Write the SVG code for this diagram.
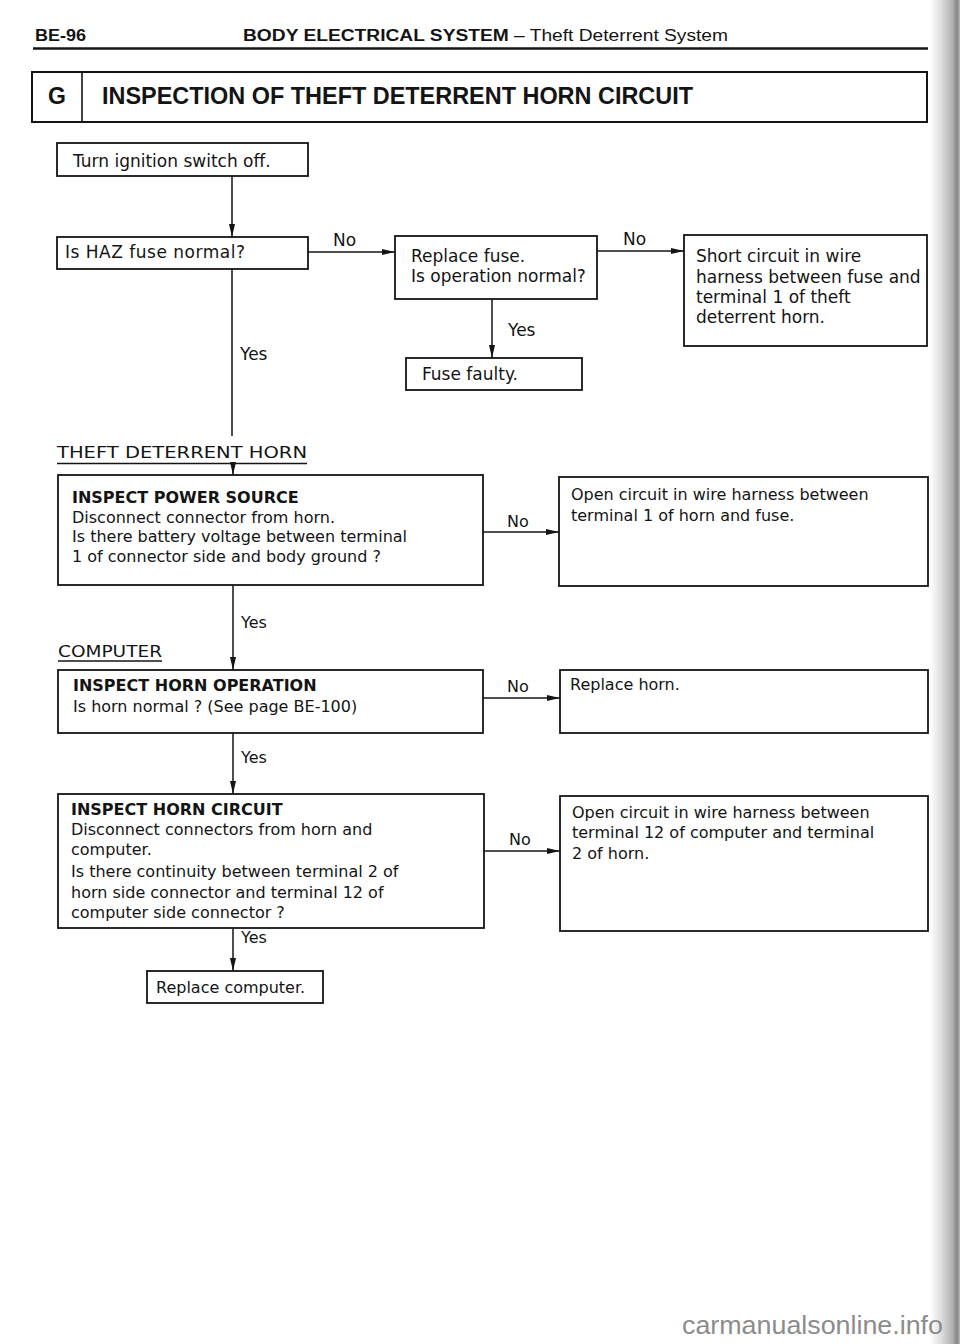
<svg xmlns="http://www.w3.org/2000/svg" width="960" height="1344" viewBox="0 0 960 1344">
  <defs>
    <style>
      .box { fill: #ffffff; stroke: #141414; stroke-width: 1.8; }
      .ln { fill: none; stroke: #141414; stroke-width: 1.5; }
      .t17 { font-family: "DejaVu Sans", "Liberation Sans", sans-serif; font-size: 17px; fill: #141414; }
      .t16 { font-family: "DejaVu Sans", "Liberation Sans", sans-serif; font-size: 16px; fill: #141414; }
      .b16 { font-family: "DejaVu Sans", "Liberation Sans", sans-serif; font-size: 16px; font-weight: bold; fill: #141414; }
      .hdr { font-family: "Liberation Sans", Arial, sans-serif; font-size: 16px; fill: #141414; }
      .ttl { font-family: "Liberation Sans", Arial, sans-serif; font-size: 23px; font-weight: bold; fill: #141414; }
      .wm { font-family: "Liberation Sans", Arial, sans-serif; font-size: 25px; fill: #8c8c8c; }
    </style>
    <marker id="arr" markerUnits="userSpaceOnUse" markerWidth="13" markerHeight="7" refX="13" refY="3.5" orient="auto">
      <path d="M0,0.5 L13,3.5 L0,6.5 z" fill="#141414"/>
    </marker>
    <linearGradient id="shadow" x1="0" y1="0" x2="1" y2="0">
      <stop offset="0" stop-color="#ffffff"/>
      <stop offset="0.35" stop-color="#e0e0e0"/>
      <stop offset="0.75" stop-color="#b0b0b0"/>
      <stop offset="0.9" stop-color="#858585"/>
      <stop offset="1" stop-color="#b8b8b8"/>
    </linearGradient>
  </defs>

  <rect x="0" y="0" width="960" height="1344" fill="#ffffff"/>
  <rect x="930" y="0" width="30" height="1344" fill="url(#shadow)"/>

  <!-- Page header -->
  <g id="header">
    <text class="hdr" x="35" y="41" font-weight="bold" textLength="51" lengthAdjust="spacingAndGlyphs">BE-96</text>
    <text class="hdr" x="243" y="41" textLength="485" lengthAdjust="spacingAndGlyphs"><tspan font-weight="bold">BODY ELECTRICAL SYSTEM</tspan> – Theft Deterrent System</text>
    <line x1="33" y1="48.5" x2="928" y2="48.5" stroke="#141414" stroke-width="2.6"/>
  </g>

  <!-- Title box -->
  <g id="title">
    <rect x="32" y="72" width="895" height="50" fill="#ffffff" stroke="#141414" stroke-width="2"/>
    <line x1="82" y1="72" x2="82" y2="122" stroke="#141414" stroke-width="1.6"/>
    <text class="ttl" x="48" y="104">G</text>
    <text class="ttl" x="102" y="104" textLength="591" lengthAdjust="spacingAndGlyphs">INSPECTION OF THEFT DETERRENT HORN CIRCUIT</text>
  </g>

  <!-- Connectors -->
  <g id="connectors">
    <line class="ln" x1="232" y1="176" x2="232" y2="237" marker-end="url(#arr)"/>
    <line class="ln" x1="308" y1="252" x2="395" y2="252" marker-end="url(#arr)"/>
    <line class="ln" x1="597" y1="251" x2="684" y2="251" marker-end="url(#arr)"/>
    <line class="ln" x1="492" y1="299" x2="492" y2="358" marker-end="url(#arr)"/>
    <line class="ln" x1="232" y1="269" x2="232" y2="436"/>
    <line class="ln" x1="233" y1="464" x2="233" y2="475" marker-end="url(#arr)"/>
    <line class="ln" x1="483" y1="532" x2="559" y2="532" marker-end="url(#arr)"/>
    <line class="ln" x1="233" y1="585" x2="233" y2="670" marker-end="url(#arr)"/>
    <line class="ln" x1="483" y1="698" x2="560" y2="698" marker-end="url(#arr)"/>
    <line class="ln" x1="233" y1="733" x2="233" y2="794" marker-end="url(#arr)"/>
    <line class="ln" x1="484" y1="851" x2="560" y2="851" marker-end="url(#arr)"/>
    <line class="ln" x1="233" y1="928" x2="233" y2="971" marker-end="url(#arr)"/>
  </g>

  <!-- Connector labels -->
  <g id="connector-labels">
    <text class="t17" x="333" y="246">No</text>
    <text class="t17" x="623" y="245">No</text>
    <text class="t17" x="508" y="336">Yes</text>
    <text class="t17" x="240" y="360">Yes</text>
    <text class="t16" x="507" y="527">No</text>
    <text class="t16" x="241" y="628">Yes</text>
    <text class="t16" x="507" y="692">No</text>
    <text class="t16" x="241" y="763">Yes</text>
    <text class="t16" x="509" y="845">No</text>
    <text class="t16" x="241" y="943">Yes</text>
  </g>

  <!-- Section labels -->
  <g id="section-horn">
    <text class="t16" x="57" y="458" textLength="250" lengthAdjust="spacingAndGlyphs">THEFT DETERRENT HORN</text>
    <line x1="57" y1="463.5" x2="307" y2="463.5" stroke="#141414" stroke-width="1.4"/>
  </g>
  <g id="section-computer">
    <text class="t16" x="58" y="657" textLength="104" lengthAdjust="spacingAndGlyphs">COMPUTER</text>
    <line x1="58" y1="661" x2="162" y2="661" stroke="#141414" stroke-width="1.4"/>
  </g>

  <!-- Nodes -->
  <g id="n-ignition-off">
    <rect class="box" x="57" y="143" width="251" height="33"/>
    <text class="t17" x="73" y="167">Turn ignition switch off.</text>
  </g>

  <g id="n-haz-fuse">
    <rect class="box" x="57" y="237" width="251" height="32"/>
    <text class="t17" x="65" y="258" textLength="180" lengthAdjust="spacing">Is HAZ fuse normal?</text>
  </g>

  <g id="n-replace-fuse">
    <rect class="box" x="395" y="236" width="202" height="63"/>
    <text class="t17" x="411" y="262">Replace fuse.</text>
    <text class="t17" x="411" y="282">Is operation normal?</text>
  </g>

  <g id="n-short-circuit">
    <rect class="box" x="684" y="235" width="243" height="111"/>
    <text class="t17" x="696" y="262">Short circuit in wire</text>
    <text class="t17" x="696" y="283">harness between fuse and</text>
    <text class="t17" x="696" y="303">terminal 1 of theft</text>
    <text class="t17" x="696" y="323">deterrent horn.</text>
  </g>

  <g id="n-fuse-faulty">
    <rect class="box" x="406" y="358" width="176" height="32"/>
    <text class="t17" x="422" y="380">Fuse faulty.</text>
  </g>

  <g id="n-power-source">
    <rect class="box" x="58" y="475" width="425" height="110"/>
    <text class="b16" x="72" y="503">INSPECT POWER SOURCE</text>
    <text class="t16" x="72" y="523">Disconnect connector from horn.</text>
    <text class="t16" x="72" y="542">Is there battery voltage between terminal</text>
    <text class="t16" x="72" y="562">1 of connector side and body ground ?</text>
  </g>

  <g id="n-open-circuit-1">
    <rect class="box" x="559" y="477" width="369" height="109"/>
    <text class="t16" x="571" y="500">Open circuit in wire harness between</text>
    <text class="t16" x="571" y="521">terminal 1 of horn and fuse.</text>
  </g>

  <g id="n-horn-operation">
    <rect class="box" x="58" y="670" width="425" height="63"/>
    <text class="b16" x="73" y="691">INSPECT HORN OPERATION</text>
    <text class="t16" x="73" y="712">Is horn normal ? (See page BE-100)</text>
  </g>

  <g id="n-replace-horn">
    <rect class="box" x="560" y="670" width="368" height="63"/>
    <text class="t16" x="570" y="690">Replace horn.</text>
  </g>

  <g id="n-horn-circuit">
    <rect class="box" x="58" y="794" width="426" height="134"/>
    <text class="b16" x="71" y="815">INSPECT HORN CIRCUIT</text>
    <text class="t16" x="71" y="835">Disconnect connectors from horn and</text>
    <text class="t16" x="71" y="855">computer.</text>
    <text class="t16" x="71" y="877">Is there continuity between terminal 2 of</text>
    <text class="t16" x="71" y="898">horn side connector and terminal 12 of</text>
    <text class="t16" x="71" y="918">computer side connector ?</text>
  </g>

  <g id="n-open-circuit-2">
    <rect class="box" x="560" y="796" width="368" height="135"/>
    <text class="t16" x="572" y="818">Open circuit in wire harness between</text>
    <text class="t16" x="572" y="838">terminal 12 of computer and terminal</text>
    <text class="t16" x="572" y="859">2 of horn.</text>
  </g>

  <g id="n-replace-computer">
    <rect class="box" x="147" y="971" width="176" height="32"/>
    <text class="t16" x="156" y="993">Replace computer.</text>
  </g>

  <text class="wm" x="682" y="1334" textLength="261" lengthAdjust="spacingAndGlyphs">carmanualsonline.info</text>
</svg>
